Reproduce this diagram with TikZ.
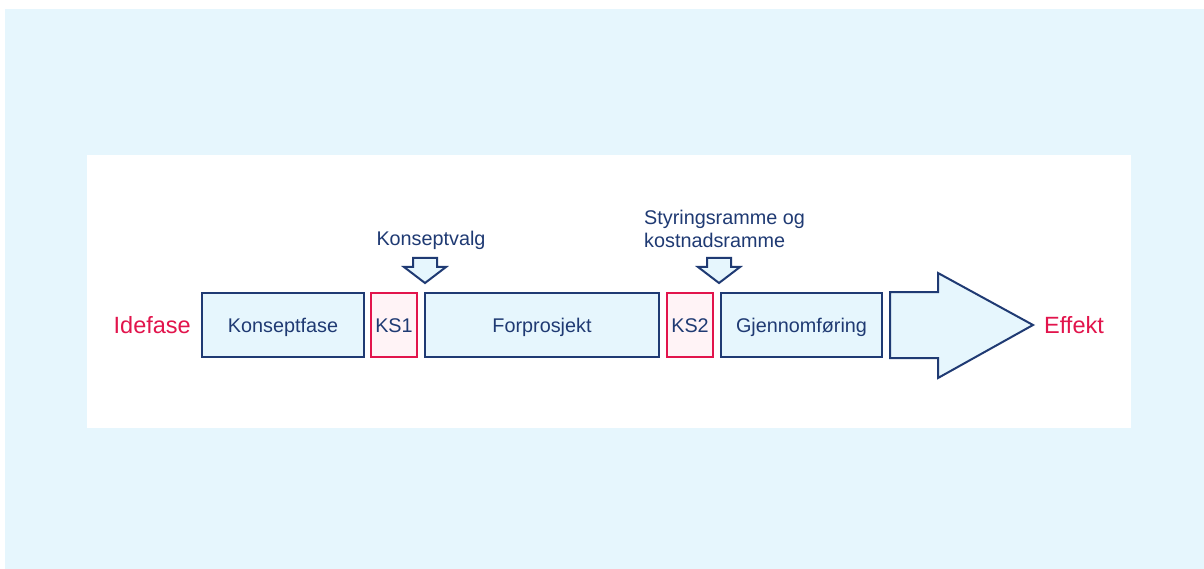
\documentclass[tikz,border=0pt]{standalone}
\usepackage{fontspec}
\setmainfont{Liberation Sans}
\usetikzlibrary{positioning}
\definecolor{navy}{RGB}{31,58,115}
\definecolor{crimson}{RGB}{226,20,76}
\definecolor{paleblue}{RGB}{230,246,253}
\definecolor{palepink}{RGB}{255,243,246}

\begin{document}
\begin{tikzpicture}[x=1pt,y=-1pt,node distance=6pt,
  phase/.style={draw=navy,fill=paleblue,line width=2pt,minimum height=64pt,inner sep=0pt,text height=14pt,text depth=0pt,text=navy,font=\fontsize{19.8}{23}\selectfont},
  gate/.style={phase,draw=crimson,fill=palepink,minimum width=46pt},
  tag/.style={inner sep=0pt,text=crimson,font=\fontsize{23.5}{27}\selectfont},
  note/.style={inner sep=0pt,text=navy,align=left,font=\fontsize{19.8}{23}\selectfont},
  pointer/.style={draw=navy,fill=paleblue,line width=2pt,line join=miter}]

\useasboundingbox (0,0) rectangle (1204,569);
\fill[paleblue] (5,9) rectangle (1204,569);
\fill[white] (87,155) rectangle (1131,428);

% phases and gates
\node[phase,minimum width=162pt] (konsept) at (283,325) {Konseptfase};
\node[gate,right=5pt of konsept] (ks1) {KS1};
\node[phase,minimum width=234pt,right=of ks1] (forprosjekt) {Forprosjekt};
\node[gate,right=of forprosjekt] (ks2) {KS2};
\node[phase,minimum width=161pt,right=of ks2] (gjennomforing) {Gjennomføring};

% big arrow
\draw[pointer] (890,292) -- (938,292) -- (938,273) -- (1033,325) -- (938,378) -- (938,358) -- (890,358) -- cycle;
\coordinate (tip) at (1033,325);

\node[tag,left=10pt of konsept] (idefase) {Idefase};
\node[tag,right=11pt of tip] (effekt) {Effekt};

% decision arrows
\coordinate (v1) at (425,283);
\coordinate (v2) at (719,283);
\draw[pointer] (v1) -- ++(-21,-16) -- ++(9,0) -- ++(0,-9) -- ++(24,0) -- ++(0,9) -- ++(9,0) -- cycle;
\draw[pointer] (v2) -- ++(-21,-16) -- ++(9,0) -- ++(0,-9) -- ++(24,0) -- ++(0,9) -- ++(9,0) -- cycle;

\node[note] (valg) at (431,240) {Konseptvalg};
\node[note,anchor=west] (ramme) at (644,229) {Styringsramme og\\kostnadsramme};
\end{tikzpicture}
\end{document}
